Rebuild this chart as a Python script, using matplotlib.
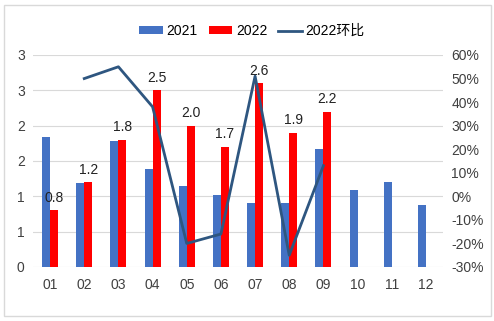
import numpy as np
import matplotlib.pyplot as plt
from matplotlib.patches import Rectangle
from matplotlib.ticker import FuncFormatter

plt.rcParams['font.family'] = ['Liberation Sans', 'Noto Sans CJK SC']

months = ['01', '02', '03', '04', '05', '06', '07', '08', '09', '10', '11', '12']
v2021 = [1.84, 1.19, 1.78, 1.39, 1.15, 1.02, 0.91, 0.91, 1.67, 1.09, 1.20, 0.88]
v2022 = [0.8, 1.2, 1.8, 2.5, 2.0, 1.7, 2.6, 1.9, 2.2]
mom_2022 = [50, 55, 38, -20, -16, 51, -25, 13]  # 环比 %, from 02 to 09

fig = plt.figure(figsize=(4.94, 3.21), dpi=100)
fig.patches.append(Rectangle((4 / 494, 1 - 316 / 321), 487 / 494, 311 / 321,
                             transform=fig.transFigure, fill=False,
                             edgecolor='#D9D9D9', linewidth=1))
ax = fig.add_axes([33 / 494, 1 - 267 / 321, 410 / 494, 212 / 321])
ax2 = ax.twinx()

x = np.arange(len(months))
w = 0.235
b1 = ax.bar(x - w / 2, v2021, w, color='#4472C4', label='2021', zorder=2)
b2 = ax.bar(x[:len(v2022)] + w / 2, v2022, w, color='#FF0000', label='2022', zorder=2)
for xi, v in zip(x, v2022):
    ax.text(xi + w / 2, v + 0.08, f'{v:.1f}', ha='center', va='bottom',
            fontsize=10, color='#222222')

ln, = ax2.plot(x[1:len(v2022)], mom_2022, color='#2E5680', linewidth=2, label='2022环比')

ax.set_xlim(-0.5, 11.5)
ax.set_ylim(0, 3)
ax.set_yticks(np.arange(0, 3.01, 0.5))
ax.yaxis.set_major_formatter(FuncFormatter(lambda v, p: str(int(np.floor(v + 0.5)))))
ax.grid(axis='y', color='#D9D9D9', linewidth=0.8, zorder=0)
ax.set_xticks(x)
ax.set_xticklabels(months)
ax2.set_ylim(-30, 60)
ax2.set_yticks(np.arange(-30, 61, 10))
ax2.yaxis.set_major_formatter(FuncFormatter(lambda v, p: f'{int(v)}%'))

for a in (ax, ax2):
    for s in a.spines.values():
        s.set_visible(False)
    a.tick_params(length=0, labelsize=10, colors='#404040', pad=6)
ax.tick_params(axis='x', pad=8)

fig.legend(handles=[b1, b2, ln], loc='center', bbox_to_anchor=(252 / 494, 1 - 31 / 321),
           ncol=3, frameon=False, fontsize=10, handlelength=1.7, handleheight=0.5,
           columnspacing=0.8, handletextpad=0.25)

fig.savefig('out.png', dpi=100)
